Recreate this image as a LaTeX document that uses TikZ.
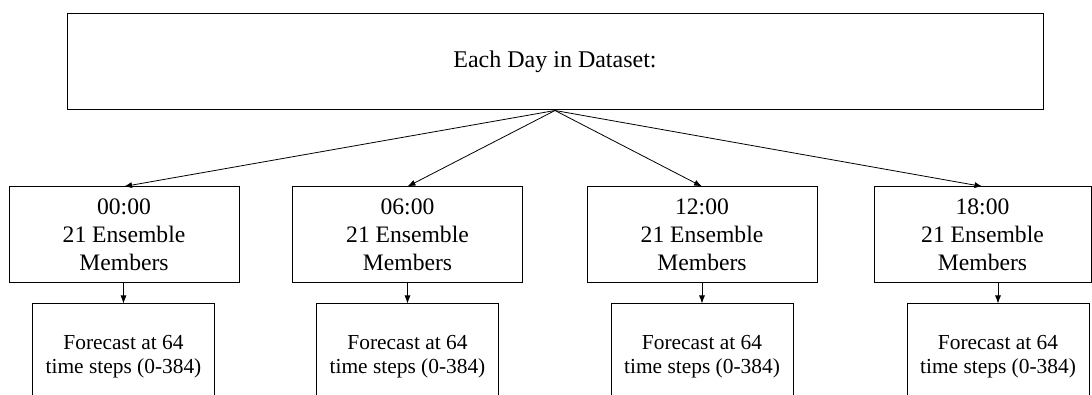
\documentclass[tikz,border=0pt]{standalone}
\usepackage{fontspec}
\setmainfont{Liberation Serif}
\usetikzlibrary{arrows.meta}
\begin{document}
\begin{tikzpicture}
[x=1pt,y=-1pt,
  daybox/.style={shape=rectangle,draw,line width=1pt,minimum width=976pt,
    minimum height=96pt,font=\fontsize{24}{28}\selectfont},
  runbox/.style={shape=rectangle,draw,line width=1pt,minimum width=230pt,
    minimum height=96pt,align=center,inner sep=0pt,
    font=\fontsize{23.6}{28}\selectfont},
  fcbox/.style={shape=rectangle,draw,line width=1pt,minimum width=182pt,
    minimum height=106pt,align=center,inner sep=0pt,
    font=\fontsize{21.4}{24}\selectfont},
  linedecorate/.style={-{Latex[length=8pt,width=6pt]},line width=0.8pt}]
\clip (0,0) rectangle (1092,395);
%% top box
\node (day) at (555,62) [daybox] {Each Day in Dataset:};
%% forecast runs and their outputs
\foreach \nodename/\x/\fx/\w in {00/124/123.5/230, 06/407.5/407.5/230,
  12/702/702/230, 18/982.5/998/217} {
  \node (run\nodename) at (\x,235) [runbox,minimum width=\w pt]
    {\nodename:00\\21 Ensemble\\Members};
  \node (fc\nodename) at (\fx,357) [fcbox] {Forecast at 64\\time steps (0-384)};
}
%% edges
\path
\foreach \nodename in {00, 06, 12, 18} {
  (day.south) edge[linedecorate] (run\nodename.north)
  (run\nodename.south -| fc\nodename.north) edge[linedecorate] (fc\nodename.north)
};
\end{tikzpicture}
\end{document}
